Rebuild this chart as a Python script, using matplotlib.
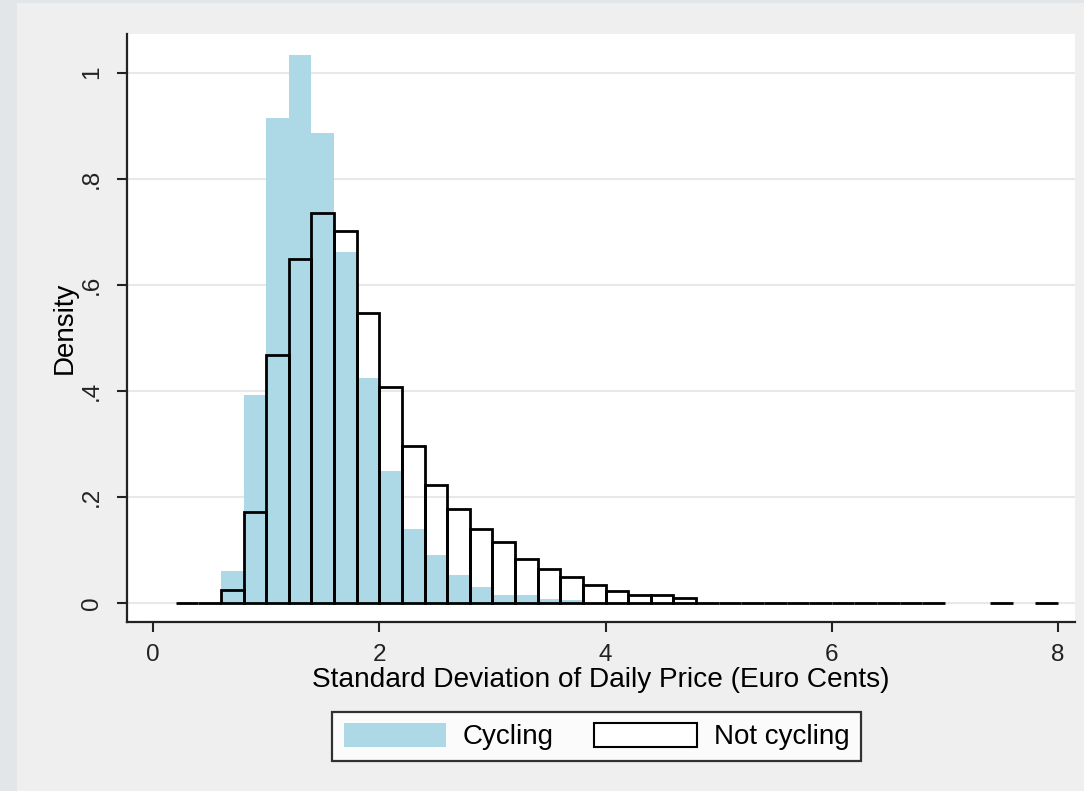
import numpy as np
import matplotlib
matplotlib.use("Agg")
import matplotlib.pyplot as plt
from matplotlib.patches import Patch, Rectangle

plt.rcParams['font.family'] = ['Liberation Sans', 'DejaVu Sans']

# histogram bins: width 0.2, left edges from 0.2 to 7.8
bin_width = 0.2
bin_left = np.round(np.arange(0.2, 8.0, bin_width), 1)

# densities per bin (nan = no bar drawn)
cycling = [0, 0, 0.061, 0.392, 0.914, 1.034, 0.887, 0.662, 0.425, 0.249,
           0.140, 0.090, 0.052, 0.030, 0.015, 0.015, 0.007, 0.006, 0, 0,
           0, 0, 0, 0, 0, 0, 0, 0, 0, 0,
           0, 0, 0, 0, 0, 0, 0, 0, 0]
not_cycling = [0, 0, 0.025, 0.172, 0.468, 0.649, 0.736, 0.702, 0.547, 0.408,
               0.296, 0.222, 0.177, 0.139, 0.114, 0.082, 0.064, 0.048, 0.033, 0.023,
               0.014, 0.014, 0.010, 0, 0, 0, 0, 0, 0, 0,
               0, 0, 0, 0, np.nan, np.nan, 0, np.nan, 0]

x_ticks = [0, 2, 4, 6, 8]
y_ticks = [0, 0.2, 0.4, 0.6, 0.8, 1.0]
y_tick_labels = ["0", ".2", ".4", ".6", ".8", "1"]

fig = plt.figure(figsize=(10.84, 7.91), dpi=100, facecolor="#e2e6e9")
fig.patches.append(Rectangle((17 / 1084, 0), 1, 1 - 3 / 791, transform=fig.transFigure,
                             facecolor="#efefef", edgecolor="none", zorder=-10))

ax = fig.add_axes([127 / 1084, 1 - 622 / 791, (1075 - 127) / 1084, (622 - 34) / 791])
ax.set_facecolor("white")

cyc = np.array(cycling, dtype=float)
ax.bar(bin_left, cyc, width=bin_width, align="edge", color="#add8e6",
       edgecolor="none", zorder=2)

nc = np.array(not_cycling, dtype=float)
keep = ~np.isnan(nc)
ax.bar(bin_left[keep], nc[keep], width=bin_width, align="edge", facecolor="none",
       edgecolor="black", linewidth=2.0, zorder=3)

ax.set_xlim(-0.23, 8.15)
ax.set_ylim(-0.036, 1.073)
ax.set_xticks(x_ticks)
ax.set_yticks(y_ticks)
ax.set_yticklabels(y_tick_labels, rotation=90, va="center")
ax.tick_params(axis="both", direction="out", length=7.5, width=1.5, colors="#222222",
               labelsize=17.5)
ax.tick_params(axis="x", pad=8)
ax.tick_params(axis="y", pad=10)
ax.grid(axis="y", color="#e8e8e8", linewidth=1.5, zorder=0)
ax.set_axisbelow(True)

for side in ["top", "right"]:
    ax.spines[side].set_visible(False)
for side in ["left", "bottom"]:
    ax.spines[side].set_linewidth(1.6)
    ax.spines[side].set_color("#222222")

ax.set_xlabel("Standard Deviation of Daily Price (Euro Cents)", fontsize=20.2, labelpad=1)
ax.set_ylabel("Density", fontsize=20, labelpad=2)

handles = [Patch(facecolor="#add8e6", edgecolor="none", label="Cycling"),
           Patch(facecolor="white", edgecolor="black", linewidth=1.5, label="Not cycling")]
leg = fig.legend(handles=handles, loc="center", ncol=2,
                 bbox_to_anchor=(596.5 / 1084, 1 - 736.5 / 791),
                 fontsize=20, frameon=True, fancybox=False, shadow=False,
                 handlelength=3.7, handleheight=0.95, handletextpad=0.6,
                 columnspacing=1.45, borderpad=0.4, borderaxespad=0)
leg.get_frame().set_edgecolor("black")
leg.get_frame().set_linewidth(1.6)
leg.get_frame().set_facecolor("white")

fig.savefig("out.png", dpi=100, facecolor=fig.get_facecolor())
